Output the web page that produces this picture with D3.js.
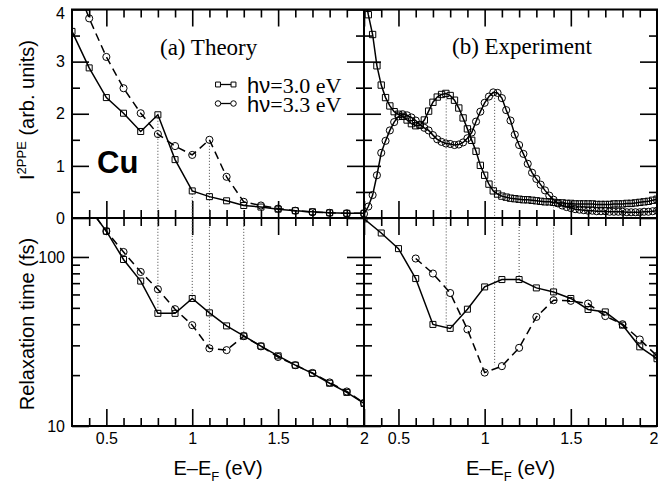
<!DOCTYPE html>
<html>
<head>
<meta charset="utf-8">
<script src="https://cdn.jsdelivr.net/npm/d3@7"></script>
<style>
  body { margin: 0; background: #fff; }
</style>
</head>
<body>
<div id="my_chart"></div>
<script>
// ---- data ----
// theory grid (eV)
var eTh = [0.3, 0.4, 0.5, 0.6, 0.7, 0.8, 0.9, 1.0, 1.1, 1.2, 1.3, 1.4, 1.5, 1.6, 1.7, 1.8, 1.9, 2.0];
// (a) theory, 2PPE intensity
var thInt30 = [3.58, 2.88, 2.31, 2.01, 1.66, 1.98, 1.12, 0.52, 0.41, 0.33, 0.24, 0.21, 0.17, 0.14, 0.12, 0.10, 0.09, 0.09];
var thInt33 = [4.70, 3.83, 3.09, 2.49, 2.01, 1.61, 1.38, 1.21, 1.50, 0.79, 0.31, 0.24, 0.18, 0.14, 0.11, 0.10, 0.09, 0.09];
// (a) theory, relaxation time (fs)
var thTau30 = [260, 195, 142, 96.6, 72, 46.4, 46.4, 56.8, 46.7, 39.1, 34.1, 29.7, 26.0, 22.9, 20.5, 17.9, 15.8, 13.6];
var thTau33 = [260, 195, 142, 107, 81.5, 64.4, 49.1, 39.5, 28.8, 28.1, 34.0, 29.6, 25.6, 22.9, 20.6, 18.1, 16.0, 13.7];

// (b) experiment, 2PPE spectra
var eExp = [0.3, 0.325, 0.35, 0.375, 0.4, 0.425, 0.45, 0.475, 0.5, 0.525, 0.55, 0.575, 0.6, 0.625, 0.65, 0.675,
  0.7, 0.725, 0.75, 0.775, 0.8, 0.825, 0.85, 0.875, 0.9, 0.925, 0.95, 0.975, 1.0, 1.025, 1.05, 1.075,
  1.1, 1.125, 1.15, 1.175, 1.2, 1.225, 1.25, 1.275, 1.3, 1.325, 1.35, 1.375, 1.4, 1.425, 1.45, 1.475,
  1.5, 1.525, 1.55, 1.575, 1.6, 1.625, 1.65, 1.675, 1.7, 1.725, 1.75, 1.775, 1.8, 1.825, 1.85, 1.875,
  1.9, 1.925, 1.95, 1.975, 2.0];
var expInt30 = [4.35, 3.90, 3.52, 2.92, 2.55, 2.31, 2.15, 2.04, 1.99, 1.95, 1.88, 1.81, 1.77, 1.78, 1.88, 2.05,
  2.22, 2.32, 2.37, 2.39, 2.35, 2.26, 2.11, 1.92, 1.71, 1.49, 1.28, 1.01, 0.82, 0.65, 0.52, 0.46,
  0.42, 0.40, 0.38, 0.37, 0.36, 0.35, 0.35, 0.34, 0.33, 0.32, 0.31, 0.31, 0.30, 0.29, 0.29, 0.28,
  0.28, 0.27, 0.27, 0.27, 0.27, 0.27, 0.26, 0.26, 0.26, 0.26, 0.27, 0.27, 0.27, 0.28, 0.28, 0.29,
  0.30, 0.31, 0.32, 0.34, 0.36];
var expInt33 = [0.08, 0.22, 0.44, 0.82, 1.25, 1.48, 1.68, 1.84, 1.95, 1.99, 1.97, 1.93, 1.87, 1.79, 1.73, 1.68,
  1.59, 1.51, 1.46, 1.43, 1.42, 1.40, 1.41, 1.45, 1.53, 1.64, 1.85, 2.04, 2.21, 2.33, 2.41, 2.40,
  2.30, 2.07, 1.87, 1.60, 1.40, 1.23, 1.04, 0.87, 0.75, 0.64, 0.53, 0.43, 0.35, 0.28, 0.24, 0.21,
  0.19, 0.17, 0.16, 0.15, 0.14, 0.14, 0.13, 0.13, 0.13, 0.12, 0.12, 0.12, 0.12, 0.11, 0.11, 0.11,
  0.11, 0.12, 0.12, 0.13, 0.14];
// (b) experiment, relaxation time (fs)
var expTau30 = [168, 138.6, 112, 74.5, 39.9, 37.8, 49.1, 66.5, 73.5, 73.5, 65.6, 62.1, 56.8, 48.9, 47.3, 39.5, 29.4, 25.0];
var eExpTau33 = [0.6, 0.7, 0.8, 0.9, 1.0, 1.1, 1.2, 1.3, 1.4, 1.5, 1.6, 1.7, 1.8, 1.9, 2.0];
var expTau33 = [97.9, 79.8, 61.2, 37.3, 20.7, 22.6, 29.0, 44.2, 55.5, 55.0, 53.0, 44.7, 40.0, 32.5, 26.0];

// dotted guide lines (energy, intensity where they start, lifetime where they end)
var dropE_a = [0.8, 1.0, 1.1, 1.3];
var dropI_a = [1.98, 0.52, 1.50, 0.31];
var dropT_a = [46.4, 56.8, 28.8, 34.1];
var dropE_b = [0.777, 1.058, 1.2, 1.4];
var dropI_b = [2.39, 2.42, 0, 0.22];
var dropT_b = [39, 22.9, 74, 57];

// ticks
var xMajor = [0.5, 1, 1.5, 2];
var xMinor = [0.4, 0.6, 0.7, 0.8, 0.9, 1.1, 1.2, 1.3, 1.4, 1.6, 1.7, 1.8, 1.9];
var yMajor = [0, 1, 2, 3, 4];
var yMinor = [0.5, 1.5, 2.5, 3.5];
var tauMajor = [10, 100];
var tauMinor = [20, 30, 40, 50, 60, 70, 80, 90];
var legendLabels = ["=3.0 eV", "=3.3 eV"];

// ---- layout ----
var W = 658, H = 487;
var xLeft = 72, xMid = 364, xRight = 657;
var yTop = 9.5, ySplit = 218, yBottom = 426;

var svg = d3.select("#my_chart")
  .append("svg")
    .attr("width", W)
    .attr("height", H)
    .style("display", "block");

var xA = d3.scaleLinear().domain([0.3, 2.0]).range([xLeft, xMid]);
var xB = d3.scaleLinear().domain([0.3, 2.0]).range([xMid, xRight]);
var yI = d3.scaleLinear().domain([0, 4]).range([ySplit, yTop]);
var yT = d3.scaleLog().domain([10, 170]).range([yBottom, ySplit]);

var sans = "'Liberation Sans', Arial, Helvetica, sans-serif";
var serif = "'Liberation Serif', 'Times New Roman', serif";

// clip paths for the four panels
var defs = svg.append("defs");
function clip(id, x0, y0, x1, y1) {
  defs.append("clipPath").attr("id", id)
    .append("rect").attr("x", x0).attr("y", y0).attr("width", x1 - x0).attr("height", y1 - y0);
}
clip("cA1", xLeft, yTop, xMid, ySplit);
clip("cB1", xMid, yTop, xRight, ySplit);
clip("cA2", xLeft, ySplit, xMid, yBottom);
clip("cB2", xMid, ySplit, xRight, yBottom);

// tick helper: draws inside ticks with a d3 axis, labels optional
function ticks(axisFn, scale, tx, ty, values, len, fmt) {
  var ax = axisFn(scale).tickValues(values).tickSize(-len).tickPadding(fmt ? 7 : 0)
    .tickFormat(fmt ? fmt : "");
  var g = svg.append("g")
    .attr("transform", "translate(" + tx + "," + ty + ")")
    .call(ax);
  g.select(".domain").remove();
  g.selectAll("line").attr("stroke", "#000").attr("stroke-width", 1.6);
  g.selectAll("text").attr("font-family", sans).attr("font-size", 16).attr("fill", "#000");
  return g;
}

var fmtX = function(d) { return d3.format("")(d); };
var fmtT = d3.format("d");

// x ticks, both columns
[xA, xB].forEach(function(xs, k) {
  ticks(d3.axisTop, xs, 0, yTop, xMajor, 17);
  ticks(d3.axisTop, xs, 0, yTop, xMinor, 8);
  ticks(d3.axisBottom, xs, 0, ySplit, xMajor, 17);
  ticks(d3.axisBottom, xs, 0, ySplit, xMinor, 8);
  ticks(d3.axisTop, xs, 0, ySplit, xMajor, 17);
  ticks(d3.axisTop, xs, 0, ySplit, xMinor, 8);
  ticks(d3.axisBottom, xs, 0, yBottom, xMinor, 8);
  var g = ticks(d3.axisBottom, xs, 0, yBottom, xMajor, 17, fmtX);
  if (k === 1) {
    // last label sits on the page edge
    g.selectAll("text").filter(function(d) { return d === 2; })
      .attr("text-anchor", "end").attr("x", 1);
  }
});

// y ticks
var gI = ticks(d3.axisLeft, yI, xLeft, 0, yMajor, 17, d3.format("d"));
gI.selectAll("text").filter(function(d) { return d === 4; }).attr("y", 4);
ticks(d3.axisLeft, yI, xLeft, 0, yMinor, 8);
ticks(d3.axisRight, yI, xMid, 0, yMajor, 17);
ticks(d3.axisRight, yI, xMid, 0, yMinor, 8);
ticks(d3.axisLeft, yI, xMid, 0, yMajor, 17);
ticks(d3.axisLeft, yI, xMid, 0, yMinor, 8);
ticks(d3.axisRight, yI, xRight, 0, yMajor, 17);
ticks(d3.axisRight, yI, xRight, 0, yMinor, 8);

ticks(d3.axisLeft, yT, xLeft, 0, tauMajor, 17, fmtT);
ticks(d3.axisLeft, yT, xLeft, 0, tauMinor, 8);
ticks(d3.axisRight, yT, xMid, 0, tauMajor, 17);
ticks(d3.axisRight, yT, xMid, 0, tauMinor, 8);
ticks(d3.axisLeft, yT, xMid, 0, tauMajor, 17);
ticks(d3.axisLeft, yT, xMid, 0, tauMinor, 8);
ticks(d3.axisRight, yT, xRight, 0, tauMajor, 17);
ticks(d3.axisRight, yT, xRight, 0, tauMinor, 8);

// dotted guides
function drops(xs, es, is, ts) {
  svg.append("g").selectAll("line")
    .data(d3.zip(es, is, ts))
    .enter()
    .append("line")
      .attr("x1", function(d) { return xs(d[0]); })
      .attr("x2", function(d) { return xs(d[0]); })
      .attr("y1", function(d) { return yI(d[1]); })
      .attr("y2", function(d) { return yT(d[2]); })
      .attr("stroke", "#444")
      .attr("stroke-width", 1)
      .attr("stroke-dasharray", "1,2");
}
drops(xA, dropE_a, dropI_a, dropT_a);
drops(xB, dropE_b, dropI_b, dropT_b);

// series helper
function series(clipId, xs, ys, es, vs, sym, dashed, size) {
  var pts = d3.zip(es, vs);
  var g = svg.append("g").attr("clip-path", "url(#" + clipId + ")");
  g.append("path")
    .datum(pts)
    .attr("fill", "none")
    .attr("stroke", "#000")
    .attr("stroke-width", 1.5)
    .attr("stroke-dasharray", dashed ? "8,5" : null)
    .attr("d", d3.line().x(function(d) { return xs(d[0]); }).y(function(d) { return ys(d[1]); }));
  g.selectAll(".pt")
    .data(pts)
    .enter()
    .append("path")
      .attr("transform", function(d) { return "translate(" + xs(d[0]) + "," + ys(d[1]) + ")"; })
      .attr("d", d3.symbol().type(sym).size(size))
      .attr("fill", "none")
      .attr("stroke", "#000")
      .attr("stroke-width", 1);
}

series("cA1", xA, yI, eTh, thInt30, d3.symbolSquare, false, 36);
series("cA1", xA, yI, eTh, thInt33, d3.symbolCircle, true, 40);
series("cA2", xA, yT, eTh, thTau30, d3.symbolSquare, false, 36);
series("cA2", xA, yT, eTh, thTau33, d3.symbolCircle, true, 40);

series("cB1", xB, yI, eExp, expInt30, d3.symbolSquare, false, 40);
series("cB1", xB, yI, eExp, expInt33, d3.symbolCircle, false, 40);
series("cB2", xB, yT, eTh, expTau30, d3.symbolSquare, false, 36);
series("cB2", xB, yT, eExpTau33, expTau33, d3.symbolCircle, true, 40);

// frame
svg.append("rect")
  .attr("x", xLeft).attr("y", yTop)
  .attr("width", xRight - xLeft).attr("height", yBottom - yTop)
  .attr("fill", "none").attr("stroke", "#000").attr("stroke-width", 2);
svg.append("line").attr("x1", xMid).attr("x2", xMid).attr("y1", yTop).attr("y2", yBottom)
  .attr("stroke", "#000").attr("stroke-width", 2);
svg.append("line").attr("x1", xLeft).attr("x2", xRight).attr("y1", ySplit).attr("y2", ySplit)
  .attr("stroke", "#000").attr("stroke-width", 2);

// panel titles
svg.append("text").attr("x", 160).attr("y", 55)
  .attr("font-family", serif).attr("font-size", 23).text("(a) Theory");
svg.append("text").attr("x", 452).attr("y", 54)
  .attr("font-family", serif).attr("font-size", 23).text("(b) Experiment");
svg.append("text").attr("x", 97).attr("y", 173)
  .attr("font-family", sans).attr("font-weight", "bold").attr("font-size", 31).text("Cu");

// legend
var legY = [84.5, 103.5];
var legSym = [d3.symbolSquare, d3.symbolCircle];
legY.forEach(function(y, i) {
  svg.append("line").attr("x1", 218).attr("x2", 233.5).attr("y1", y).attr("y2", y)
    .attr("stroke", "#000").attr("stroke-width", 1.3);
  [218, 233.5].forEach(function(x) {
    svg.append("path")
      .attr("transform", "translate(" + x + "," + y + ")")
      .attr("d", d3.symbol().type(legSym[i]).size(24))
      .attr("fill", "#fff").attr("stroke", "#000").attr("stroke-width", 1);
  });
  var t = svg.append("text").attr("x", 247).attr("y", y + 8).attr("font-size", 22);
  t.append("tspan").attr("font-family", sans).text("h\u03bd");
  t.append("tspan").attr("font-family", serif).text(legendLabels[i]);
});

// axis titles
var yt1 = svg.append("text")
  .attr("transform", "translate(34,110) rotate(-90)")
  .attr("text-anchor", "middle")
  .attr("font-family", sans).attr("font-size", 20);
yt1.append("tspan").text("I");
yt1.append("tspan").attr("font-size", 13).attr("dy", -8).text("2PPE");
yt1.append("tspan").attr("dy", 8).text(" (arb. units)");

svg.append("text")
  .attr("transform", "translate(34,324) rotate(-90)")
  .attr("text-anchor", "middle")
  .attr("font-family", sans).attr("font-size", 20)
  .text("Relaxation time (fs)");

[(xLeft + xMid) / 2, (xMid + xRight) / 2].forEach(function(cx) {
  var t = svg.append("text").attr("x", cx).attr("y", 475)
    .attr("text-anchor", "middle").attr("font-family", sans).attr("font-size", 20);
  t.append("tspan").text("E\u2013E");
  t.append("tspan").attr("font-size", 13).attr("dy", 6).text("F");
  t.append("tspan").attr("dy", -6).text(" (eV)");
});
</script>
</body>
</html>
